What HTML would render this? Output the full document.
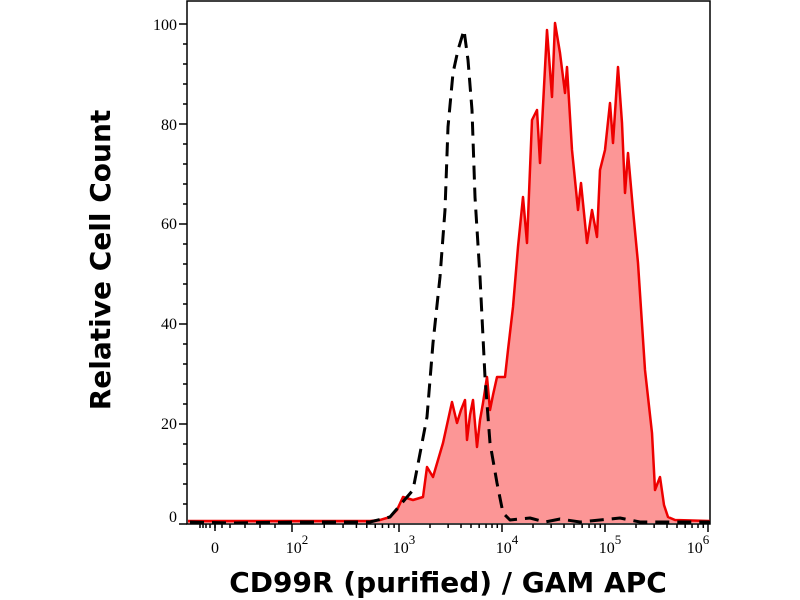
<!DOCTYPE html>
<html><head><style>
body{margin:0;background:#fff;}
svg{display:block;}
.t{font-family:"Liberation Serif",serif;font-size:16px;fill:#000;}
.b{font-family:"DejaVu Sans","Liberation Sans",sans-serif;font-weight:bold;font-size:28px;fill:#000;}
</style></head><body>
<svg width="800" height="600" viewBox="0 0 800 600">
<rect x="187" y="1" width="523" height="523" fill="none" stroke="#000" stroke-width="1.5"/>
<polygon fill="#fc9696" stroke="none" points="188,521 370,521 380,520 390,517 397,510 403,497 413,500 423,497 427,467 433,477 443,443 452,402 457,423 461,410 465,400 467,440 470,415 473,400 477,447 480,420 483,403 487,377 490,410 493,395 497,377 505,377 508,350 513,307 518,247 523,197 527,243 532,120 537,110 540,163 547,30 552,97 555,23 560,53 565,93 567,67 572,150 578,210 581,183 587,243 592,210 597,237 600,170 605,150 610,103 613,143 618,67 622,123 625,193 628,153 633,210 638,263 645,370 652,433 655,490 660,477 664,505 668,517 675,520 710,521 710,523 188,523"/>
<polyline fill="none" stroke="#ee0000" stroke-width="2.5" stroke-linejoin="round" points="188,521 370,521 380,520 390,517 397,510 403,497 413,500 423,497 427,467 433,477 443,443 452,402 457,423 461,410 465,400 467,440 470,415 473,400 477,447 480,420 483,403 487,377 490,410 493,395 497,377 505,377 508,350 513,307 518,247 523,197 527,243 532,120 537,110 540,163 547,30 552,97 555,23 560,53 565,93 567,67 572,150 578,210 581,183 587,243 592,210 597,237 600,170 605,150 610,103 613,143 618,67 622,123 625,193 628,153 633,210 638,263 645,370 652,433 655,490 660,477 664,505 668,517 675,520 710,521"/>
<polyline fill="none" stroke="#000" stroke-width="3" stroke-dasharray="14,8" stroke-linejoin="round" points="190,522 230,523 300,522 370,522 390,517 413,490 427,417 433,343 440,277 445,210 448,127 453,73 458,50 464,30 468,60 472,110 475,197 480,277 485,377 490,443 497,483 503,513 510,520 530,518 545,522 560,519 580,522 600,520 620,518 640,522 710,522"/>
<g stroke="#000" stroke-width="1.5">
<line x1="179" y1="524" x2="187" y2="524"/><line x1="179" y1="424" x2="187" y2="424"/><line x1="179" y1="324" x2="187" y2="324"/><line x1="179" y1="224" x2="187" y2="224"/><line x1="179" y1="124" x2="187" y2="124"/><line x1="179" y1="24" x2="187" y2="24"/>
<line x1="183" y1="504" x2="187" y2="504"/><line x1="183" y1="484" x2="187" y2="484"/><line x1="183" y1="464" x2="187" y2="464"/><line x1="183" y1="444" x2="187" y2="444"/>
<line x1="183" y1="404" x2="187" y2="404"/><line x1="183" y1="384" x2="187" y2="384"/><line x1="183" y1="364" x2="187" y2="364"/><line x1="183" y1="344" x2="187" y2="344"/>
<line x1="183" y1="304" x2="187" y2="304"/><line x1="183" y1="284" x2="187" y2="284"/><line x1="183" y1="264" x2="187" y2="264"/><line x1="183" y1="244" x2="187" y2="244"/>
<line x1="183" y1="204" x2="187" y2="204"/><line x1="183" y1="184" x2="187" y2="184"/><line x1="183" y1="164" x2="187" y2="164"/><line x1="183" y1="144" x2="187" y2="144"/>
<line x1="183" y1="104" x2="187" y2="104"/><line x1="183" y1="84" x2="187" y2="84"/><line x1="183" y1="64" x2="187" y2="64"/><line x1="183" y1="44" x2="187" y2="44"/>
</g>
<g class="t" text-anchor="end">
<text x="177" y="522">0</text><text x="177" y="429">20</text><text x="177" y="329">40</text><text x="177" y="229">60</text><text x="177" y="130">80</text><text x="177" y="30">100</text>
</g>
<g stroke="#000" stroke-width="1.5" id="xt"></g>
<g class="t" text-anchor="middle">
<text x="215" y="553">0</text>
<text x="297" y="553">10<tspan dy="-9" font-size="13">2</tspan></text>
<text x="404" y="553">10<tspan dy="-9" font-size="13">3</tspan></text>
<text x="507" y="553">10<tspan dy="-9" font-size="13">4</tspan></text>
<text x="610" y="553">10<tspan dy="-9" font-size="13">5</tspan></text>
<text x="698" y="553">10<tspan dy="-9" font-size="13">6</tspan></text>
</g>
<text class="b" x="448" y="592" text-anchor="middle">CD99R (purified) / GAM APC</text>
<text class="b" transform="translate(110,260) rotate(-90)" text-anchor="middle">Relative Cell Count</text>
</svg>
<script>
var g=document.getElementById('xt'),s='';
function L(x,h){s+='<line x1="'+x+'" y1="524" x2="'+x+'" y2="'+(524+h)+'"/>';}
var dec=[292,399,502,605,708];
dec.forEach(function(d){L(d,8);});
for(var i=0;i<4;i++){for(var k=2;k<10;k++){L(dec[i]+(dec[i+1]-dec[i])*Math.log10(k),4);}}
[200,203,206,210,215,222,230,245,260,275].forEach(function(x){L(x,4);});
L(215,7);
g.innerHTML=s;
</script>
</body></html>
